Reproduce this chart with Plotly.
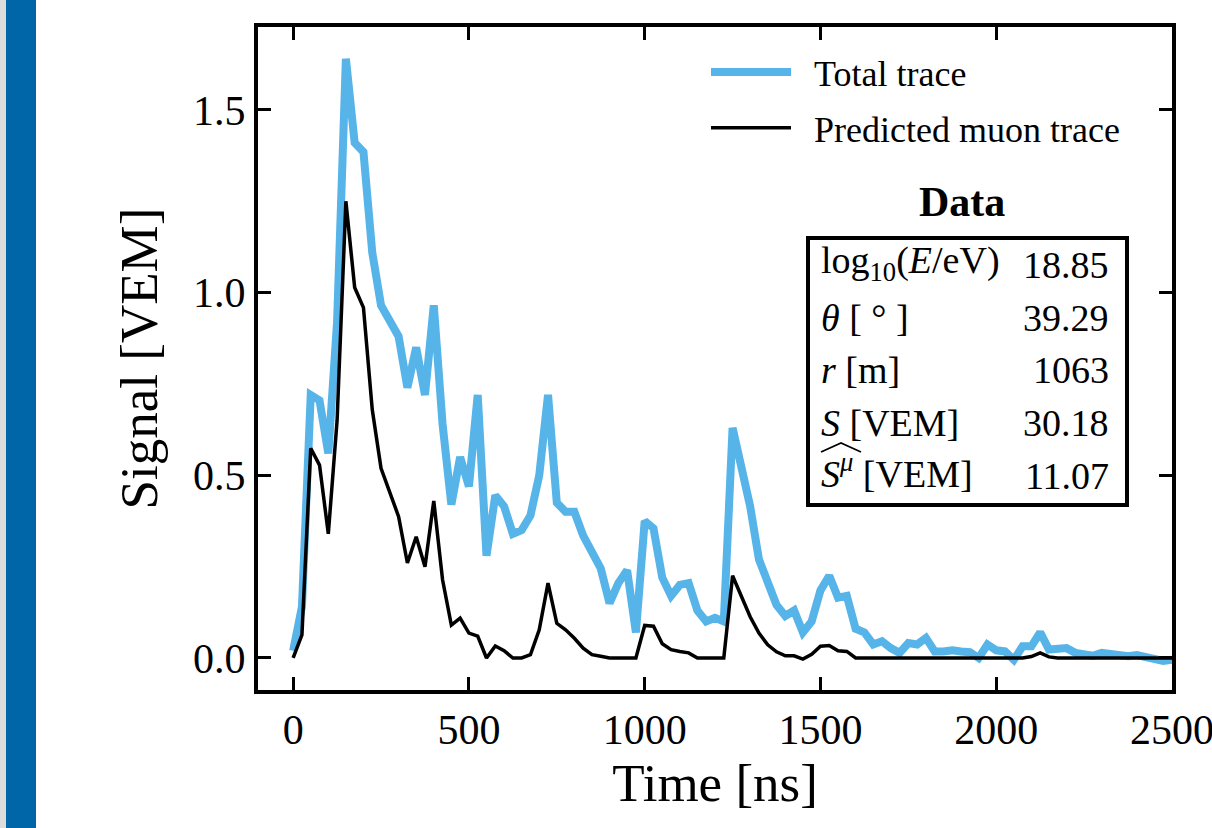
import plotly.graph_objects as go

# ---------------- data ----------------
time_ns = list(range(0, 2525, 25))

total_trace = [
    0.02, 0.14, 0.72, 0.705, 0.56, 0.92, 1.64, 1.41, 1.385, 1.11,
    0.965, 0.925, 0.88, 0.74, 0.85, 0.72, 0.965, 0.64, 0.42, 0.55,
    0.47, 0.72, 0.28, 0.445, 0.415, 0.34, 0.35, 0.39, 0.50, 0.72,
    0.425, 0.40, 0.40, 0.335, 0.29, 0.245, 0.15, 0.205, 0.24, 0.07,
    0.375, 0.355, 0.22, 0.17, 0.20, 0.205, 0.13, 0.10, 0.11, 0.10,
    0.63, 0.525, 0.415, 0.27, 0.20, 0.145, 0.115, 0.13, 0.07, 0.10,
    0.185, 0.225, 0.165, 0.17, 0.08, 0.07, 0.037, 0.046, 0.027, 0.014,
    0.041, 0.037, 0.055, 0.018, 0.018, 0.021, 0.018, 0.016, 0.0, 0.037,
    0.021, 0.018, -0.005, 0.032, 0.032, 0.07, 0.023, 0.025, 0.027, 0.014,
    0.012, 0.006, 0.014, 0.01, 0.008, 0.005, 0.008, 0.003, 0.0, -0.008,
    -0.005,
]

muon_trace = [
    0.0, 0.063, 0.574, 0.528, 0.34, 0.65, 1.25, 1.014, 0.959, 0.68,
    0.519, 0.455, 0.387, 0.26, 0.332, 0.25, 0.43, 0.214, 0.09, 0.109,
    0.068, 0.06, 0.0, 0.033, 0.02, 0.0, 0.0, 0.009, 0.077, 0.205,
    0.095, 0.077, 0.054, 0.027, 0.009, 0.005, 0.0, 0.0, 0.0, 0.0,
    0.089, 0.087, 0.039, 0.023, 0.018, 0.014, 0.0, 0.0, 0.0, 0.0,
    0.225, 0.168, 0.113, 0.068, 0.036, 0.017, 0.006, 0.006, -0.003, 0.01,
    0.032, 0.034, 0.02, 0.018, 0.0, 0.0, 0.0, 0.0, 0.0, 0.0,
    0.0, 0.0, 0.0, 0.0, 0.0, 0.0, 0.0, 0.0, 0.0, 0.0,
    0.0, 0.0, 0.0, 0.0, 0.004, 0.014, 0.003, 0.0, 0.0, 0.0,
    0.0, 0.0, 0.0, 0.0, 0.0, 0.0, 0.0, 0.0, 0.0, 0.0,
    0.0,
]

series_names = ["Total trace", "Predicted muon trace"]
box_title = "Data"
box_labels = [
    "log<sub>10</sub>(<i>E</i>/eV)",
    "<i>θ</i> [ ° ]",
    "<i>r</i> [m]",
    "<i>S</i> [VEM]",
    "<i>S</i><sup><i>μ</i></sup> [VEM]",
]
box_values = ["18.85", "39.29", "1063", "30.18", "11.07"]

x_ticks = [0, 500, 1000, 1500, 2000, 2500]
y_ticks = [0.0, 0.5, 1.0, 1.5]

# ---------------- layout helpers ----------------
W, H = 1212, 828
L, R, T, B = 258, 1172, 27, 690
FONT = "Liberation Serif"
NB = "\u00a0\u00a0"


def px(xp):
    return (xp - L) / (R - L)


def py(yp):
    return (B - yp) / (B - T)


fig = go.Figure()
fig.add_trace(go.Scatter(
    x=time_ns, y=total_trace, mode="lines", name=NB + series_names[0],
    legendgroup="a",
    line=dict(color="#56B4E9", width=8),
))
fig.add_trace(go.Scatter(
    x=time_ns, y=muon_trace, mode="lines", name=NB + series_names[1],
    legendgroup="b",
    line=dict(color="black", width=3.5),
))

axis_common = dict(
    showline=True, linecolor="black", linewidth=4, mirror="ticks",
    ticks="inside", ticklen=13, tickwidth=3, tickcolor="black",
    showgrid=False, zeroline=False, automargin=False,
    tickfont=dict(family=FONT, size=42, color="black"),
)

fig.update_xaxes(
    range=[-100, 2500], tickvals=x_ticks, ticklabeloverflow="allow",
    title=dict(text="Time [ns]", font=dict(family=FONT, size=53, color="black"), standoff=12),
    **axis_common,
)
fig.update_yaxes(
    range=[-0.0876, 1.727], tickvals=y_ticks, tickformat=".1f",
    title=dict(text="Signal [VEM]", font=dict(family=FONT, size=53, color="black"), standoff=20),
    **axis_common,
)

shapes = [
    # left decorative strips
    dict(type="rect", xref="paper", yref="paper", x0=px(0), x1=px(6), y0=py(H), y1=py(0),
         fillcolor="#dcdcdc", line=dict(width=0), layer="below"),
    dict(type="rect", xref="paper", yref="paper", x0=px(6), x1=px(36), y0=py(H), y1=py(0),
         fillcolor="#0066a8", line=dict(width=0), layer="below"),
    # info box
    dict(type="rect", xref="paper", yref="paper", x0=px(808), x1=px(1127), y0=py(505), y1=py(238),
         fillcolor="white", line=dict(color="black", width=4)),
    # wide hat over S^mu
    dict(type="path", xref="paper", yref="paper",
         path=f"M {px(821)},{py(452)} L {px(841)},{py(443)} L {px(861)},{py(452)}",
         line=dict(color="black", width=1.8)),
]

annotations = [
    dict(text=f"<b>{box_title}</b>", x=px(962), y=py(202), xref="paper", yref="paper",
         showarrow=False, xanchor="center", yanchor="middle",
         font=dict(family=FONT, size=42, color="black")),
]
row_y = [263, 318, 370, 423, 471]
for lab, yy in zip(box_labels, row_y):
    annotations.append(dict(text=lab, x=px(819), y=py(yy), xref="paper", yref="paper",
                            showarrow=False, xanchor="left", yanchor="middle",
                            font=dict(family=FONT, size=38, color="black")))
for val, yy in zip(box_values, [265, 318, 370, 423, 476]):
    annotations.append(dict(text=val, x=px(1111), y=py(yy), xref="paper", yref="paper",
                            showarrow=False, xanchor="right", yanchor="middle",
                            font=dict(family=FONT, size=38, color="black")))

fig.update_layout(
    width=W, height=H,
    margin=dict(l=L, r=W - R, t=T, b=H - B, autoexpand=False),
    paper_bgcolor="white", plot_bgcolor="white",
    shapes=shapes, annotations=annotations,
    legend=dict(x=px(706), y=py(42), xanchor="left", yanchor="top",
                bgcolor="rgba(0,0,0,0)", font=dict(family=FONT, size=36, color="black"),
                itemwidth=80, tracegroupgap=6),
    showlegend=True,
)

fig.write_html(
    "out.html",
    config={"displayModeBar": False},
    post_script=(
        "document.documentElement.style.overflow='hidden';"
        "document.body.style.margin='0';"
        "document.body.style.overflow='hidden';"
    ),
)
